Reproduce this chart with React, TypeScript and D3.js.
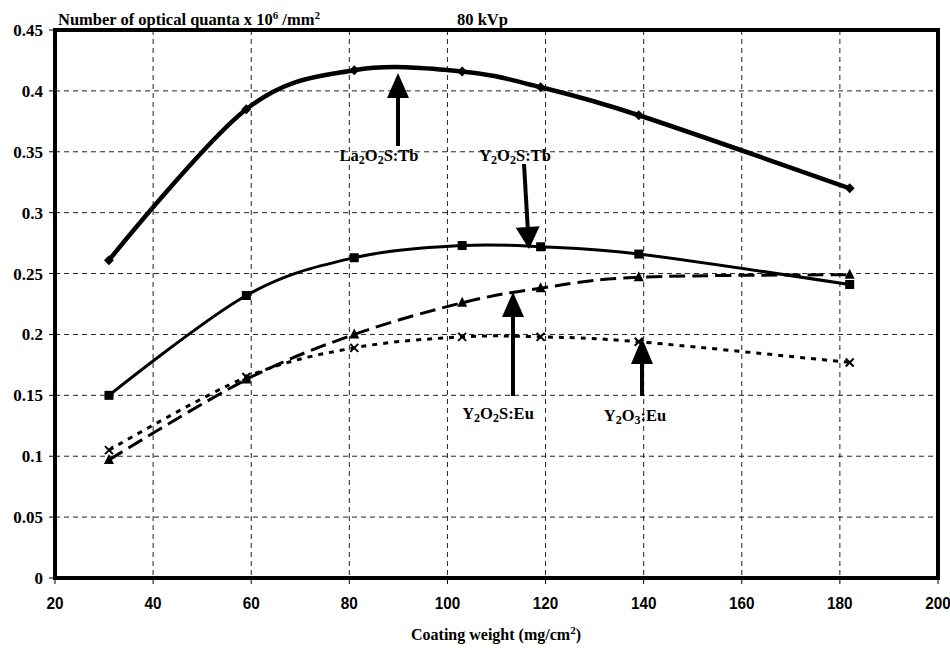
import React from 'react'
import * as d3 from 'd3'

// coating weight (mg/cm2)
const weights = [31, 59, 81, 103, 119, 139, 182]

const la2o2sTb = [0.261, 0.385, 0.417, 0.416, 0.403, 0.38, 0.32]
const y2o2sTb = [0.15, 0.232, 0.263, 0.273, 0.272, 0.266, 0.241]
const y2o2sEu = [0.097, 0.163, 0.2, 0.226, 0.238, 0.247, 0.249]
const y2o3Eu = [0.105, 0.165, 0.189, 0.198, 0.198, 0.194, 0.177]

const xTicks = [20, 40, 60, 80, 100, 120, 140, 160, 180, 200]
const yTicks = [0, 0.05, 0.1, 0.15, 0.2, 0.25, 0.3, 0.35, 0.4, 0.45]

const W = 950
const H = 652
const left = 55
const right = 938
const top = 30
const bottom = 578

const x = d3.scaleLinear().domain([20, 200]).range([left, right])
const y = d3.scaleLinear().domain([0, 0.45]).range([bottom, top])

const line = d3
  .line<number>()
  .x((_, i) => x(weights[i]))
  .y((d) => y(d))
  .curve(d3.curveCardinal.tension(0))

const serif = '"Liberation Serif", "Times New Roman", serif'
const sans = '"Liberation Sans", Arial, sans-serif'

const Diamond = ({ cx, cy }) => (
  <path d={`M${cx},${cy - 5}L${cx + 5},${cy}L${cx},${cy + 5}L${cx - 5},${cy}Z`} fill="#000" />
)
const Square = ({ cx, cy }) => <rect x={cx - 4.5} y={cy - 4.5} width={9} height={9} fill="#000" />
const Tri = ({ cx, cy }) => (
  <path d={`M${cx},${cy - 6}L${cx + 5},${cy + 4}L${cx - 5},${cy + 4}Z`} fill="#000" />
)
const Cross = ({ cx, cy }) => (
  <path
    d={`M${cx - 4},${cy - 4}L${cx + 4},${cy + 4}M${cx + 4},${cy - 4}L${cx - 4},${cy + 4}`}
    stroke="#000"
    strokeWidth={2}
  />
)

// arrow: from (x1,y1) tail to (x2,y2) tip
const Arrow = ({ x1, y1, x2, y2, head = 24, half = 11, width = 4 }) => {
  const a = Math.atan2(y2 - y1, x2 - x1)
  const bx = x2 - head * Math.cos(a)
  const by = y2 - head * Math.sin(a)
  const px = -Math.sin(a) * half
  const py = Math.cos(a) * half
  return (
    <g>
      <line x1={x1} y1={y1} x2={bx} y2={by} stroke="#000" strokeWidth={width} />
      <path d={`M${x2},${y2}L${bx + px},${by + py}L${bx - px},${by - py}Z`} fill="#000" />
    </g>
  )
}

const Label = ({ tx, ty, parts }) => (
  <text x={tx} y={ty} fontFamily={serif} fontWeight="bold" fontSize={16.5} textAnchor="middle">
    {parts.map((p, i) =>
      typeof p === 'string' ? (
        <tspan key={i}>{p}</tspan>
      ) : (
        <tspan key={i} baselineShift="-25%" fontSize={12}>
          {p.sub}
        </tspan>
      )
    )}
  </text>
)

export default function App() {
  return (
    <svg
      width={W}
      height={H}
      style={{ position: 'absolute', left: 0, top: 0, background: '#fff' }}
    >
      {/* grid */}
      {xTicks.slice(1, -1).map((t) => (
        <line key={'gx' + t} x1={x(t)} x2={x(t)} y1={top} y2={bottom} stroke="#222" strokeWidth={1} strokeDasharray="5,4" />
      ))}
      {yTicks.slice(1, -1).map((t) => (
        <line key={'gy' + t} x1={left} x2={right} y1={y(t)} y2={y(t)} stroke="#222" strokeWidth={1} strokeDasharray="5,4" />
      ))}

      {/* ticks */}
      {xTicks.map((t) => (
        <line key={'tx' + t} x1={x(t)} x2={x(t)} y1={bottom} y2={bottom + 6} stroke="#000" strokeWidth={1} />
      ))}
      {yTicks.map((t) => (
        <line key={'ty' + t} x1={left - 6} x2={left} y1={y(t)} y2={y(t)} stroke="#000" strokeWidth={1} />
      ))}

      {/* tick labels */}
      {xTicks.map((t) => (
        <text key={'lx' + t} x={x(t)} y={bottom + 31} textAnchor="middle" fontFamily={sans} fontWeight="bold" fontSize={17} transform={`translate(${x(t) * 0.1},0) scale(0.9,1)`}>
          {t}
        </text>
      ))}
      {yTicks.map((t) => (
        <text key={'ly' + t} x={left - 12} y={y(t) + 6} textAnchor="end" fontFamily={serif} fontWeight="bold" fontSize={17}>
          {d3.format('~g')(t)}
        </text>
      ))}

      {/* series */}
      <path d={line(la2o2sTb)} fill="none" stroke="#000" strokeWidth={4.5} />
      <path d={line(y2o2sTb)} fill="none" stroke="#000" strokeWidth={3} />
      <path d={line(y2o2sEu)} fill="none" stroke="#000" strokeWidth={3} strokeDasharray="16,7" />
      <path d={line(y2o3Eu)} fill="none" stroke="#000" strokeWidth={3} strokeDasharray="5,6" />

      {la2o2sTb.map((v, i) => <Diamond key={'a' + i} cx={x(weights[i])} cy={y(v)} />)}
      {y2o2sTb.map((v, i) => <Square key={'b' + i} cx={x(weights[i])} cy={y(v)} />)}
      {y2o2sEu.map((v, i) => <Tri key={'c' + i} cx={x(weights[i])} cy={y(v)} />)}
      {y2o3Eu.map((v, i) => <Cross key={'d' + i} cx={x(weights[i])} cy={y(v)} />)}

      {/* frame */}
      <rect x={left} y={top} width={right - left} height={bottom - top} fill="none" stroke="#000" strokeWidth={4} />

      {/* annotations */}
      <Arrow x1={398} y1={146} x2={398} y2={73} head={25} half={11} />
      <Label tx={379} ty={161} parts={['La', { sub: '2' }, 'O', { sub: '2' }, 'S:Tb']} />

      <Arrow x1={524} y1={164} x2={529} y2={249} head={22} half={12} />
      <Label tx={515} ty={161} parts={['Y', { sub: '2' }, 'O', { sub: '2' }, 'S:Tb']} />

      <Arrow x1={513} y1={396} x2={513} y2={292} head={25} half={11} />
      <Label tx={498} ty={419} parts={['Y', { sub: '2' }, 'O', { sub: '2' }, 'S:Eu']} />

      <Arrow x1={642} y1={396} x2={642} y2={338} head={26} half={11} />
      <Label tx={635} ty={421} parts={['Y', { sub: '2' }, 'O', { sub: '3' }, ':Eu']} />

      {/* titles */}
      <text x={58} y={25} fontFamily={serif} fontWeight="bold" fontSize={16.5}>
        Number of optical quanta x 10
        <tspan baselineShift="super" fontSize={11}>6</tspan>
        <tspan> /mm</tspan>
        <tspan baselineShift="super" fontSize={11}>2</tspan>
      </text>
      <text x={457} y={25} fontFamily={serif} fontWeight="bold" fontSize={16.5}>
        80 kVp
      </text>
      <text x={496} y={640} textAnchor="middle" fontFamily={serif} fontWeight="bold" fontSize={16}>
        Coating weight (mg/cm
        <tspan baselineShift="super" fontSize={11}>2</tspan>
        <tspan>)</tspan>
      </text>
    </svg>
  )
}
